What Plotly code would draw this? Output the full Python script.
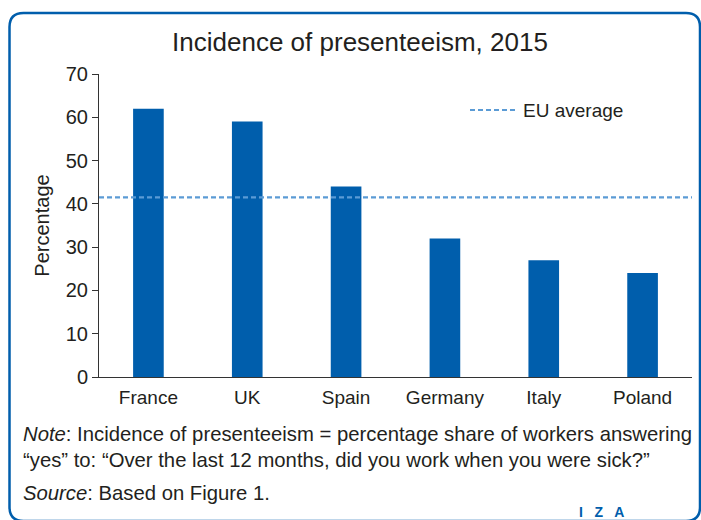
import plotly.graph_objects as go

countries = ["France", "UK", "Spain", "Germany", "Italy", "Poland"]
presenteeism = [62, 59, 44, 32, 27, 24]
eu_average = 41.5
y_ticks = [0, 10, 20, 30, 40, 50, 60, 70]

W, H = 701, 520
L, R, T, B = 99, 9, 74, 143
pw = W - L - R
ph = H - T - B

def px(x):
    return (x - L) / pw

def py(y):
    return (H - B - y) / ph

FONT = "Liberation Sans"
TXT = "#231f20"
BLUE = "#005eac"
DASH = "#5b9bd5"

fig = go.Figure()
fig.add_trace(go.Bar(x=countries, y=presenteeism, marker_color=BLUE,
                     marker_line_width=0, showlegend=False))
fig.add_trace(go.Scatter(x=[0, 1], y=[eu_average, eu_average], xaxis="x2",
                         mode="lines", line=dict(color=DASH, width=2.2, dash="5px,3px"),
                         showlegend=False, hoverinfo="skip"))

# rounded border (bottom edge falls just outside the picture)
x0, x1, y0, y1, r = px(9.5), px(700), py(13), py(521), 14
rx, ry = r / pw, r / ph
path = (f"M{x0+rx},{y0} L{x1-rx},{y0} Q{x1},{y0} {x1},{y0-ry} "
        f"L{x1},{y1+ry} Q{x1},{y1} {x1-rx},{y1} L{x0+rx},{y1} "
        f"Q{x0},{y1} {x0},{y1+ry} L{x0},{y0-ry} Q{x0},{y0} {x0+rx},{y0} Z")
shapes = [dict(type="path", xref="paper", yref="paper", path=path,
               line=dict(color=BLUE, width=2.5), fillcolor="rgba(0,0,0,0)", layer="above"),
          dict(type="line", xref="paper", yref="paper", x0=px(470), x1=px(515),
               y0=py(110), y1=py(110), line=dict(color=DASH, width=2.2, dash="5px,3px"))]

annotations = [
    dict(text="EU average", xref="paper", yref="paper", x=px(521), y=py(110),
         xanchor="left", yanchor="middle", showarrow=False, font=dict(size=19, color=TXT)),
    dict(text="<i>Note</i>: Incidence of presenteeism = percentage share of workers answering<br>"
              "“yes” to: “Over the last 12 months, did you work when you were sick?”",
         xref="paper", yref="paper", x=px(21), y=py(447), xanchor="left", yanchor="middle",
         align="left", showarrow=False, font=dict(size=20.3, color=TXT)),
    dict(text="<i>Source</i>: Based on Figure 1.", xref="paper", yref="paper",
         x=px(21), y=py(493), xanchor="left", yanchor="middle", align="left",
         showarrow=False, font=dict(size=20.3, color=TXT)),
    dict(text="<b>I   Z   A</b>", xref="paper", yref="paper", x=px(601), y=py(512),
         xanchor="center", yanchor="middle", showarrow=False,
         font=dict(size=14, color=BLUE)),
]

fig.update_layout(
    width=W, height=H, margin=dict(l=L, r=R, t=T, b=B),
    paper_bgcolor="white", plot_bgcolor="white",
    font=dict(family=FONT, size=20, color=TXT),
    title=dict(text="Incidence of presenteeism, 2015", x=360 / W, xref="container",
               xanchor="center", y=1 - 42 / H, yref="container", yanchor="middle",
               font=dict(size=26, color=TXT)),
    bargap=0.69,
    xaxis=dict(showline=True, linecolor="#333", linewidth=1, ticks="", showgrid=False,
               tickfont=dict(size=19), range=[-0.5, 5.5], ticklabelstandoff=3),
    xaxis2=dict(overlaying="x", range=[0, 1], visible=False),
    yaxis=dict(range=[0, 70], tickvals=y_ticks, showline=True, linecolor="#333", linewidth=1,
               ticks="outside", ticklen=6, tickcolor="#333", showgrid=False, zeroline=False,
               tickfont=dict(size=20),
               title=dict(text="Percentage", standoff=10, font=dict(size=20))),
    shapes=shapes, annotations=annotations,
)
fig.write_html("out.html", config={"displayModeBar": False},
               post_script="document.body.style.margin='0px';")
